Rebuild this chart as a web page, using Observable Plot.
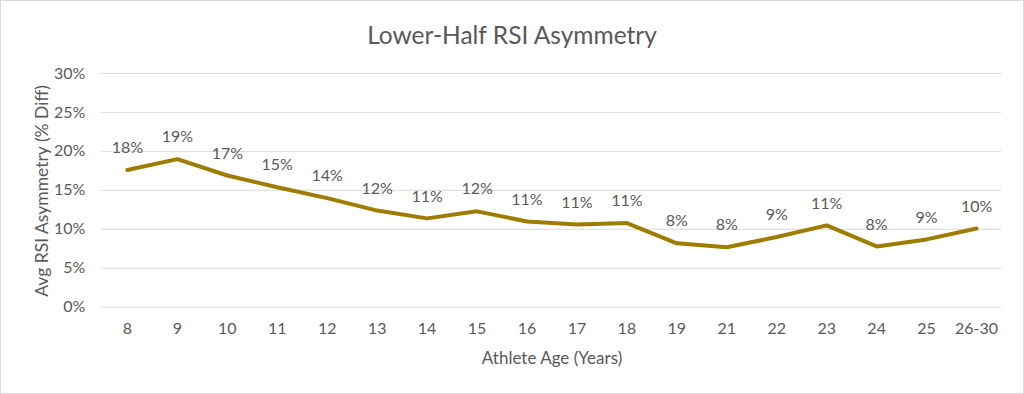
<!DOCTYPE html>
<html>
<head>
<meta charset="utf-8">
<script src="https://cdn.jsdelivr.net/npm/d3@7"></script>
<script src="https://cdn.jsdelivr.net/npm/@observablehq/plot@0.6"></script>
<style>
  html, body { margin: 0; padding: 0; background: #fff; }
  #wrap { position: relative; width: 1024px; height: 394px; box-sizing: border-box; border: 1px solid #d9d9d9; overflow: hidden; font-family: Lato, "Open Sans", sans-serif; color: #595959; }
  #title { position: absolute; left: 0; top: 19px; width: 1022px; text-align: center; font-size: 24.5px; }
  #ytitle { position: absolute; left: 40px; top: 190px; transform: translate(-50%, -50%) rotate(-90deg); white-space: nowrap; font-size: 17.5px; }
  #xtitle { position: absolute; left: 551px; top: 356px; transform: translate(-50%, -50%); white-space: nowrap; font-size: 17px; }
  #chart { position: absolute; left: -1px; top: -1px; }
</style>
</head>
<body>
<div id="wrap">
  <div id="chart"></div>
  <div id="title">Lower-Half RSI Asymmetry</div>
  <div id="ytitle">Avg RSI Asymmetry (% Diff)</div>
  <div id="xtitle">Athlete Age (Years)</div>
</div>
<script>
const ages = ["8","9","10","11","12","13","14","15","16","17","18","19","21","22","23","24","25","26-30"];
const asymmetry = [0.176, 0.190, 0.169, 0.154, 0.140, 0.124, 0.114, 0.123, 0.110, 0.106, 0.108, 0.082, 0.077, 0.090, 0.105, 0.078, 0.087, 0.101];
const yTicks = [0, 0.05, 0.10, 0.15, 0.20, 0.25, 0.30];

const data = ages.map((a, i) => ({age: a, value: asymmetry[i]}));
const pct = d3.format(".0%");

const chart = Plot.plot({
  width: 1024,
  height: 394,
  marginTop: 73,
  marginBottom: 87,
  marginLeft: 101,
  marginRight: 22,
  style: {fontFamily: "Lato, 'Open Sans', sans-serif", fontSize: "16px", color: "#595959", background: "transparent"},
  x: {type: "point", domain: ages, padding: 0.5, label: null},
  y: {domain: [0, 0.30], label: null},
  marks: [
    Plot.gridY(yTicks, {stroke: "#d9d9d9", strokeOpacity: 1, strokeWidth: 1}),
    Plot.axisY(yTicks, {tickSize: 0, tickPadding: 16, tickFormat: pct, fontSize: 16, fill: "#595959", label: null}),
    Plot.axisX(ages, {tickSize: 0, tickPadding: 15, fontSize: 16, fill: "#595959", label: null}),
    Plot.line(data, {x: "age", y: "value", stroke: "#9e7c00", strokeWidth: 4, strokeLinejoin: "round", strokeLinecap: "round"}),
    Plot.text(data, {x: "age", y: "value", text: d => pct(d.value), dy: -22, fontSize: 16, fill: "#595959"})
  ]
});
document.getElementById("chart").appendChild(chart);
</script>
</body>
</html>
